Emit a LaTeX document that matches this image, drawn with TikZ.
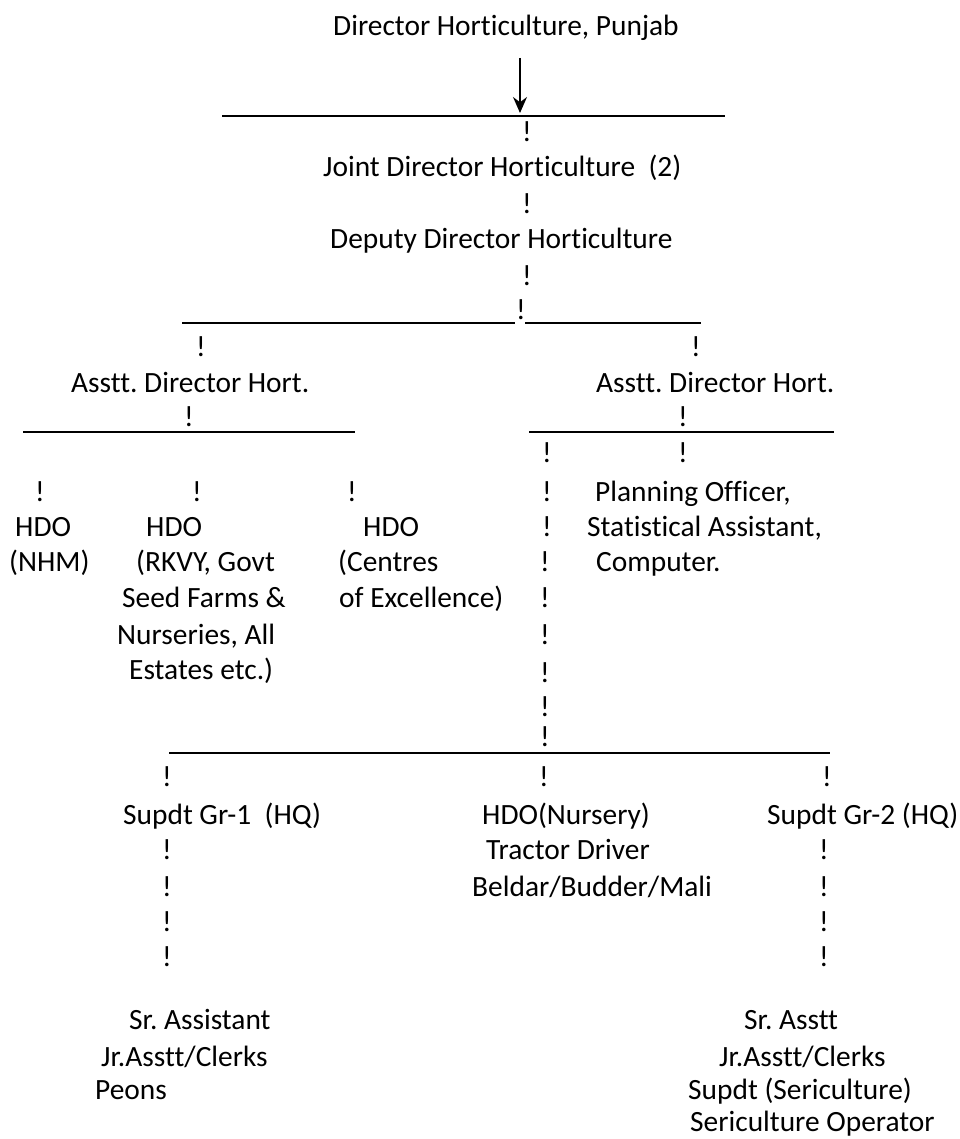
\documentclass[tikz,border=0pt]{standalone}
\usepackage{fontspec}
\setmainfont{Carlito}[Ligatures={NoCommon}]
\usetikzlibrary{arrows.meta}
\newcommand\chartfont{\fontsize{29.4}{35.5}\selectfont\frenchspacing}
\tikzset{
  txt/.style={anchor=base west, inner sep=0pt, font=\chartfont},
  bang/.style={anchor=base, inner sep=0pt, font=\chartfont},
  bar/.style={line width=1.6pt},
  topbar/.style={line width=2pt}
}
\begin{document}
\begin{tikzpicture}[x=1pt,y=-1pt]
\useasboundingbox (0,0) rectangle (959,1139);
% top
\node[txt] (dir) at (333,36) {Director Horticulture, Punjab};
\coordinate (arrS) at (520,58);
\coordinate (arrE) at (520,113);
\draw[line width=1.6pt,-{Stealth[length=16pt,width=14pt]}] (arrS) -- (arrE);
\coordinate (b1L) at (222,116); \coordinate (b1R) at (725,116);
\draw[topbar] (b1L) -- (b1R);
\node[bang] (e1) at (527,142) {!};
\node[txt] (jd) at (323,177) {Joint Director Horticulture\ \ (2)};
\node[bang] (e2) at (527,214) {!};
\node[txt] (dd) at (330,249) {Deputy Director Horticulture};
\node[bang] (e3) at (527,286) {!};
\node[bang] (e4) at (521,319) {!};
\coordinate (b2L) at (182,323); \coordinate (b2M1) at (515,323);
\coordinate (b2M2) at (525,323); \coordinate (b2R) at (701,323);
\draw[bar] (b2L) -- (b2M1);
\draw[bar] (b2M2) -- (b2R);
\node[bang] (e5) at (201,356) {!};
\node[bang] (e6) at (696,356) {!};
\node[txt] (adL) at (71,392) {Asstt. Director Hort.};
\node[txt] (adR) at (596,392) {Asstt. Director Hort.};
\node[bang] (e7) at (189,426) {!};
\node[bang] (e8) at (683,426) {!};
\coordinate (b3L) at (23,432); \coordinate (b3R) at (355,432);
\draw[bar] (b3L) -- (b3R);
\coordinate (b4L) at (529,432); \coordinate (b4R) at (834,432);
\draw[topbar] (b4L) -- (b4R);
% left branch
\node[bang] (l1) at (40,501) {!};
\node[bang] (l2) at (197,501) {!};
\node[bang] (l3) at (352,501) {!};
\node[txt] (h1a) at (15,536) {HDO};
\node[txt] (h1b) at (9,571) {(NHM)};
\node[txt] (h2a) at (146,536) {HDO};
\node[txt] (h2b) at (136,571) {(RKVY, Govt};
\node[txt] (h2c) at (122,607) {Seed Farms \&};
\node[txt] (h2d) at (117,644) {Nurseries, All};
\node[txt] (h2e) at (129,679) {Estates etc.)};
\node[txt] (h3a) at (363,536) {HDO};
\node[txt] (h3b) at (338,571) {(Centres};
\node[txt] (h3c) at (339,607) {of Excellence)};
% right branch
\node[bang] (r1) at (547,462) {!};
\node[bang] (r2) at (683,462) {!};
\node[bang] (r3) at (547,501) {!};
\node[txt] (po) at (595,501) {Planning Officer,};
\node[bang] (r4) at (547,536) {!};
\node[txt] (sa) at (587,536) {Statistical Assistant,};
\node[bang] (r5) at (545,571) {!};
\node[txt] (co) at (596,571) {Computer.};
\node[bang] (r6) at (545,607) {!};
\node[bang] (r7) at (545,644) {!};
\node[bang] (r8) at (545,682) {!};
\node[bang] (r9) at (545,716) {!};
\node[bang] (r10) at (545,746) {!};
\coordinate (b5L) at (169,753); \coordinate (b5R) at (830,753);
\draw[bar] (b5L) -- (b5R);
% bottom
\node[bang] (m1) at (167,786) {!};
\node[bang] (m2) at (544,786) {!};
\node[bang] (m3) at (827,786) {!};
\node[txt] (sg1) at (123,824) {Supdt Gr-1\ \ (HQ)};
\node[txt] (hn) at (482,824) {HDO(Nursery)};
\node[txt] (sg2) at (767,824) {Supdt Gr-2 (HQ)};
\node[txt] (td) at (486,859) {Tractor Driver};
\node[txt] (bb) at (472,896) {Beldar/Budder/Mali};
\foreach \yy [count=\i] in {859,896,931,966}{
  \node[bang] (pl\i) at (167,\yy) {!};
  \node[bang] (pr\i) at (824,\yy) {!};
}
\node[txt] (s1a) at (129,1029) {Sr. Assistant};
\node[txt] (s1b) at (101,1066) {Jr.Asstt/Clerks};
\node[txt] (s1c) at (95,1099) {Peons};
\node[txt] (s2a) at (744,1029) {Sr. Asstt};
\node[txt] (s2b) at (719,1066) {Jr.Asstt/Clerks};
\node[txt] (s2c) at (688,1099) {Supdt (Sericulture)};
\node[txt] (s2d) at (690,1131) {Sericulture Operator};
\end{tikzpicture}
\end{document}
